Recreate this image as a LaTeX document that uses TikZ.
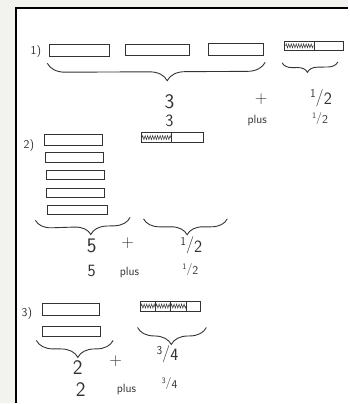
\documentclass[tikz,border=0pt]{standalone}
\usepackage{graphicx}
\usepackage{tikz}
\usetikzlibrary{calc,decorations.pathreplacing,decorations.pathmorphing}
\definecolor{pencil}{HTML}{333333}
\definecolor{paperbg}{HTML}{F2F2EE}
\newcommand{\hfrac}[2]{\raisebox{0.55ex}{\scalebox{0.7}{#1}}/\raisebox{-0.35ex}{#2}}

\begin{document}
\begin{tikzpicture}[x=1pt,y=-1pt,
    bar/.style={draw=pencil, line width=1pt, inner sep=0pt, minimum width=#1, minimum height=10pt},
    braceunder/.style={draw=pencil, line width=0.9pt, decorate, decoration={brace, mirror, amplitude=#1}},
    squiggle/.style={draw=pencil, line width=0.5pt, decorate, decoration={zigzag, segment length=2.5pt, amplitude=2pt}},
    big/.style={text=pencil, font=\sffamily\huge, inner sep=0pt},
    mid/.style={text=pencil, font=\sffamily\LARGE, inner sep=0pt},
    word/.style={text=pencil, font=\sffamily\large, inner sep=0pt}]

    % 1. Paper and frame
    \fill[paperbg] (0,0) rectangle (349,404);
    \fill[white] (16,8) rectangle (349,404);
    \draw[black, line width=2.5pt] (16,404) -- (16,8) -- (349,8);

    % 2. Row one: three wholes and a half
    \node[word] (lab1) at (36,52) {1)};
    \node[bar=60pt, minimum height=12pt] (b11) at (80,51) {};
    \node[bar=65pt, minimum height=11pt] (b12) at (158,50) {};
    \node[bar=55pt, minimum height=12pt] (b13) at (237,50) {};
    \node[bar=59pt, minimum height=9pt] (h1) at (315,46) {};
    \draw[squiggle] ($(h1.west)+(1.5,0)$) -- ($(h1.west)!0.5!(h1.east)$);
    \draw[pencil, line width=0.6pt] ($(h1.north west)!0.5!(h1.north east)$) -- ($(h1.south west)!0.5!(h1.south east)$);

    \draw[braceunder=18pt, decoration={aspect=0.55}] ($(b11.south west)+(-2,6)$) -- ($(b13.south east)+(1,6)$);
    \draw[braceunder=10pt, decoration={aspect=0.45}] ($(h1.south west)+(-2,12)$) -- ($(h1.south east)+(-6,11)$);

    \node[big] (n1a) at (170,102) {3};
    \node[mid] (n1b) at (170,121) {3};
    \node[mid] (p1a) at (262,100) {+};
    \node[word] (p1b) at (258,121) {plus};
    \node[mid] (f1a) at (322,98) {\hfrac{1}{2}};
    \node[word] (f1b) at (321,119) {\hfrac{1}{2}};

    % 3. Row two: five wholes and a half
    \node[word] (lab2) at (29,146) {2)};
    \foreach \i/\x/\y/\w/\h in {1/74/140/58/11, 2/75/158/58/10, 3/76/176/58/9, 4/76/194/58/9, 5/78/211/60/9}
        \node[bar=\w pt, minimum height=\h pt] (b2\i) at (\x,\y) {};
    \node[bar=63pt] (h2) at (173,138) {};
    \draw[squiggle] ($(h2.west)+(1.5,0)$) -- ($(h2.west)!0.48!(h2.east)$);
    \draw[pencil, line width=0.6pt] ($(h2.north west)!0.48!(h2.north east)$) -- ($(h2.south west)!0.48!(h2.south east)$);

    \draw[braceunder=16pt, decoration={aspect=0.58}] ($(b25.south west)+(-12,5)$) -- ($(b25.south east)+(22,2)$);
    \draw[braceunder=16pt, decoration={aspect=0.52}] ($(h2.south west)+(3,76)$) -- ($(h2.south east)+(23,76)$);

    \node[big] (n2a) at (92,247) {5};
    \node[mid] (n2b) at (92,272) {5};
    \node[mid] (p2a) at (128,244) {+};
    \node[word] (p2b) at (130,273) {plus};
    \node[mid] (f2a) at (192,246) {\hfrac{1}{2}};
    \node[word] (f2b) at (191,270) {\hfrac{1}{2}};

    % 4. Row three: two wholes and three quarters
    \node[word] (lab3) at (27,314) {3)};
    \node[bar=57pt, minimum height=12pt] (b31) at (71,310) {};
    \node[bar=58pt] (b32) at (72,333) {};
    \node[bar=61pt] (h3) at (171,307) {};
    \draw[squiggle] ($(h3.west)+(1.5,0)$) -- ($(h3.west)!0.75!(h3.east)$);
    \foreach \t in {0.25,0.5,0.75}
        \draw[pencil, line width=0.5pt] ($(h3.north west)!\t!(h3.north east)$) -- ($(h3.south west)!\t!(h3.south east)$);

    \draw[braceunder=17pt, decoration={aspect=0.54}] ($(b32.south west)+(-6,3)$) -- ($(b32.south east)+(12,3)$);
    \draw[braceunder=17pt, decoration={aspect=0.49}] ($(h3.south west)+(-2,16)$) -- ($(h3.south east)+(5,16)$);

    \node[mid] (f3a) at (168,355) {\hfrac{3}{4}};
    \node[big] (n3a) at (78,369) {2};
    \node[mid] (p3a) at (116,362) {+};
    \node[big] (n3b) at (81,391) {2};
    \node[word] (p3b) at (127,391) {plus};
    \node[word] (f3b) at (170,385) {\hfrac{3}{4}};
\end{tikzpicture}
\end{document}
